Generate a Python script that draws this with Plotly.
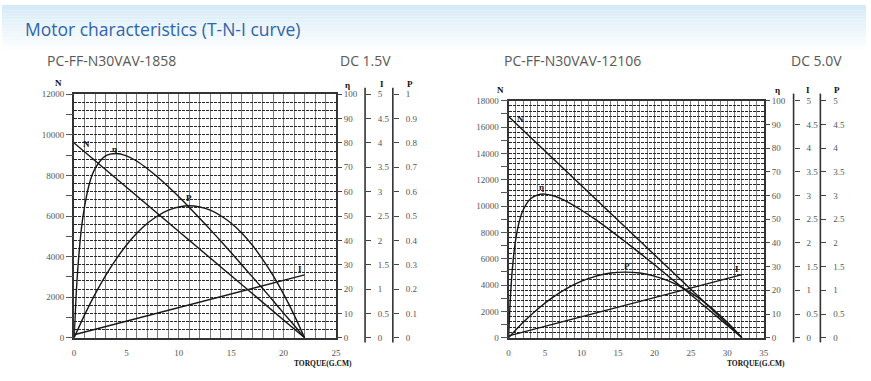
import plotly.graph_objects as go

# ---------------- data: left chart (DC 1.5V) ----------------
t1_line = [0, 22]
n1 = [9600, 0]
i1 = [0.06, 1.29]
t1_eta = [0, 0.2, 0.4, 0.7, 1, 1.5, 2, 3, 4, 5, 6, 7, 8, 9, 10, 11, 12, 13, 14, 15, 16, 17, 18, 19, 20, 21, 22]
eta1 = [0, 18, 31, 45, 54, 64, 69.5, 74.7, 75.7, 74.7, 72.5, 69.4, 65.9, 62, 57.9, 53.5, 49, 44.4, 39.7, 34.9, 30, 25.1, 20.2, 15.2, 10.1, 5.1, 0]
t1_p = [0, 1, 2, 3, 4, 5, 6, 7, 8, 9, 10, 11, 12, 13, 14, 15, 16, 17, 18, 19, 20, 21, 22]
p1 = [0, 0.094, 0.179, 0.255, 0.322, 0.381, 0.430, 0.470, 0.501, 0.524, 0.537, 0.542, 0.537, 0.524, 0.501, 0.470, 0.430, 0.381, 0.322, 0.255, 0.179, 0.094, 0]

# ---------------- data: right chart (DC 5.0V) ----------------
t2_line = [0, 32]
n2 = [16800, 0]
i2 = [0.04, 1.33]
t2_eta = [0, 0.3, 0.6, 1, 1.5, 2, 3, 4, 5, 6, 7, 8, 10, 12, 14, 16, 18, 20, 22, 24, 26, 28, 30, 31, 32]
eta2 = [0, 19.8, 31.8, 41.9, 49.4, 53.9, 58.6, 60.3, 60.6, 60.0, 58.9, 57.4, 53.8, 49.7, 45.2, 40.5, 35.7, 30.8, 25.7, 20.7, 15.5, 10.4, 5.2, 2.6, 0]
t2_p = [0, 2, 4, 6, 8, 10, 12, 14, 16, 18, 20, 22, 24, 26, 28, 30, 32]
p2 = [0, 0.325, 0.607, 0.846, 1.041, 1.193, 1.301, 1.366, 1.385, 1.366, 1.301, 1.193, 1.041, 0.846, 0.607, 0.325, 0]

title = "Motor characteristics (T-N-I curve)"
model1, volt1 = "PC-FF-N30VAV-1858", "DC 1.5V"
model2, volt2 = "PC-FF-N30VAV-12106", "DC 5.0V"

W, H = 871, 381
def px(x):
    return x / W
def py(y):
    return 1 - y / H

SERIF = "Liberation Serif, DejaVu Serif, serif"
tickfont = dict(family=SERIF, size=9, color="#555")
curve = dict(color="#161616", width=1.4)

fig = go.Figure()

# traces left
fig.add_trace(go.Scatter(x=t1_line, y=n1, xaxis="x", yaxis="y", mode="lines", line=curve))
fig.add_trace(go.Scatter(x=t1_line, y=n1, xaxis="x", yaxis="y2", mode="lines", line=dict(width=0), opacity=0, hoverinfo="skip"))
fig.add_trace(go.Scatter(x=t1_eta, y=eta1, xaxis="x", yaxis="y3", mode="lines", line=dict(curve, shape="spline", smoothing=0.8)))
fig.add_trace(go.Scatter(x=t1_line, y=i1, xaxis="x", yaxis="y4", mode="lines", line=curve))
fig.add_trace(go.Scatter(x=t1_p, y=p1, xaxis="x", yaxis="y5", mode="lines", line=dict(curve, shape="spline", smoothing=0.8)))
# traces right
fig.add_trace(go.Scatter(x=t2_line, y=n2, xaxis="x2", yaxis="y6", mode="lines", line=curve))
fig.add_trace(go.Scatter(x=t2_line, y=n2, xaxis="x2", yaxis="y7", mode="lines", line=dict(width=0), opacity=0, hoverinfo="skip"))
fig.add_trace(go.Scatter(x=t2_eta, y=eta2, xaxis="x2", yaxis="y8", mode="lines", line=dict(curve, shape="spline", smoothing=0.8)))
fig.add_trace(go.Scatter(x=t2_line, y=i2, xaxis="x2", yaxis="y9", mode="lines", line=curve))
fig.add_trace(go.Scatter(x=t2_p, y=p2, xaxis="x2", yaxis="y10", mode="lines", line=dict(curve, shape="spline", smoothing=0.8)))

def xaxis_cfg(domain, xmax, anchor):
    vals = list(range(0, xmax + 1))
    return dict(domain=domain, range=[0, xmax], anchor=anchor,
                tickmode="array", tickvals=vals,
                ticktext=[str(v) if v % 5 == 0 else "" for v in vals],
                ticks="", ticklabelstandoff=6, tickfont=tickfont,
                showgrid=True, gridcolor="#7c7c7c", gridwidth=1,
                showline=True, mirror=True, linecolor="#333", linewidth=1.6,
                zeroline=False, fixedrange=True)

def ygrid_cfg(domain, ymax, anchor):
    return dict(domain=domain, range=[0, ymax], anchor=anchor,
                tickmode="linear", tick0=0, dtick=400, showticklabels=False, ticks="",
                showgrid=True, gridcolor="#262626", gridwidth=1, griddash="3px,1px",
                showline=True, mirror=True, linecolor="#333", linewidth=1.6,
                zeroline=False, fixedrange=True)

def ylabel_cfg(over, ymax, anchor):
    vals = list(range(0, ymax + 1, 1000))
    return dict(overlaying=over, anchor=anchor, side="left", range=[0, ymax],
                tickmode="array", tickvals=vals,
                ticktext=[str(v) if v % 2000 == 0 else "" for v in vals],
                ticks="outside", ticklen=7, tickcolor="#555", tickfont=tickfont,
                showgrid=False, zeroline=False, showline=False, fixedrange=True)

def yright_cfg(over, rng, dtick, anchor, position=None):
    d = dict(overlaying=over, side="right", range=rng, tickmode="linear", tick0=0, dtick=dtick,
             ticks="outside", ticklen=5, tickcolor="#444", tickfont=tickfont,
             showgrid=False, zeroline=False, showline=False, fixedrange=True)
    if position is None:
        d["anchor"] = anchor
    else:
        d["anchor"] = "free"
        d["position"] = position
        d["ticklabelstandoff"] = 5
    return d

ydom1 = [py(341.7), py(91.7)]
ydom2 = [py(341.7), py(98.3)]
xdom1 = [px(72.7), px(336.7)]
xdom2 = [px(510.7), px(768.0)]

fig.update_layout(
    xaxis=xaxis_cfg(xdom1, 25, "y"),
    yaxis=ygrid_cfg(ydom1, 12000, "x"),
    yaxis2=ylabel_cfg("y", 12000, "x"),
    yaxis3=yright_cfg("y", [0, 100], 10, "x"),
    yaxis4=yright_cfg("y", [0, 5], 0.5, "x", px(366)),
    yaxis5=yright_cfg("y", [0, 1], 0.1, "x", px(394)),
    xaxis2=xaxis_cfg(xdom2, 35, "y6"),
    yaxis6=ygrid_cfg(ydom2, 18000, "x2"),
    yaxis7=ylabel_cfg("y6", 18000, "x2"),
    yaxis8=yright_cfg("y6", [0, 100], 10, "x2"),
    yaxis9=yright_cfg("y6", [0, 5], 0.5, "x2", px(798)),
    yaxis10=yright_cfg("y6", [0, 5], 0.5, "x2", px(825)),
)

shapes = []
# top gradient band
steps = 16
for k in range(steps):
    f = k / (steps - 1)
    r = int(214 + (255 - 214) * f)
    g = int(235 + (255 - 235) * f)
    b = int(248 + (255 - 248) * f)
    shapes.append(dict(type="rect", xref="paper", yref="paper", x0=0, x1=1,
                       y0=py((k + 1) * 3), y1=py(k * 3), line=dict(width=0),
                       fillcolor=f"rgb({r},{g},{b})", layer="below"))
# I / P axis lines (slightly taller than the plot, as in the reference)
for xp, top in [(366, 85), (394, 85), (798, 91), (825, 91)]:
    shapes.append(dict(type="line", xref="paper", yref="paper", x0=px(xp), x1=px(xp),
                       y0=py(346.5), y1=py(top), line=dict(color="#333", width=1.6)))
fig.update_layout(shapes=shapes)

ann = []
def a(text, x, y, xref="paper", yref="paper", size=9, bold=True, color="#111", family=SERIF, xanchor="center"):
    ann.append(dict(text=f"<b>{text}</b>" if bold else text, x=x, y=y, xref=xref, yref=yref,
                    showarrow=False, xanchor=xanchor, yanchor="middle", borderpad=0,
                    font=dict(family=family, size=size, color=color)))

SANS = "Open Sans, Noto Sans, sans-serif"
a(title, px(22), py(25), size=17.5, bold=False, color="#2f64ad", family=SANS, xanchor="left")
a(model1, px(44), py(57), size=14, bold=False, color="#585858", family=SANS, xanchor="left")
a(volt1, px(340), py(57), size=14, bold=False, color="#585858", family=SANS, xanchor="left")
a(model2, px(505), py(57), size=14, bold=False, color="#585858", family=SANS, xanchor="left")
a(volt2, px(794), py(57), size=14, bold=False, color="#585858", family=SANS, xanchor="left")

# axis titles
for t, x, y in [("N", 57, 80), ("η", 348, 82), ("I", 383, 81), ("P", 411, 81),
                ("N", 503, 87), ("η", 782, 87), ("I", 813, 87), ("P", 842, 87)]:
    a(t, px(x), py(y), size=9)
a("TORQUE(G.CM)", px(324), py(368), size=7.5)
a("TORQUE(G.CM)", px(760), py(368), size=7.5)

# curve labels (data coordinates)
for t, x, y in [("N", 1.2, 9550), ("η", 3.85, 9310), ("P", 11.0, 6910), ("I", 21.6, 3390)]:
    a(t, x, y, xref="x", yref="y", size=9)
for t, x, y in [("N", 1.6, 16640), ("η", 4.5, 11420), ("P", 16.3, 5430), ("I", 31.3, 5230)]:
    a(t, x, y, xref="x2", yref="y6", size=9)

fig.update_layout(annotations=ann, width=W, height=H, margin=dict(l=0, r=0, t=0, b=0),
                  paper_bgcolor="white", plot_bgcolor="white", showlegend=False)

fig.write_html("out.html", config={"displayModeBar": False},
               post_script="document.body.style.margin='0';document.body.style.padding='0';document.body.style.overflow='hidden';")
